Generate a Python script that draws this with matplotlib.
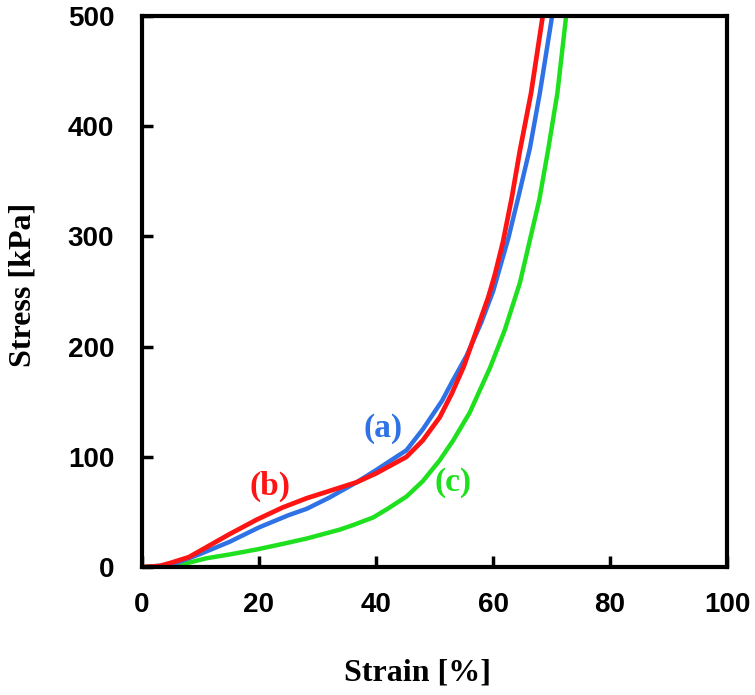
import numpy as np
import matplotlib
matplotlib.use('Agg')
import matplotlib.pyplot as plt

# valores: deformacion [%] y esfuerzo [kPa]
strain_a = [0, 5, 10, 15, 20, 25, 28.2, 32, 36.7, 40, 45.2, 48, 51.3, 53, 55.5, 58, 60, 62.6, 64.3, 66.3, 68, 70.1]
stress_a = [0, 2, 12, 23, 36, 47, 53, 63, 77, 88, 106, 125, 151, 168, 192, 222, 250, 298, 335, 380, 430, 500]

strain_b = [0, 3, 5, 8, 11, 15, 19.6, 24, 28.2, 32, 36.7, 40, 45.2, 48, 50.9, 53, 55, 57, 59.2, 60.3, 61.7, 63.2, 64.6, 66.5, 68.5]
stress_b = [0, 1, 4, 9, 18, 30, 43, 54, 62.6, 69, 77, 85, 100, 115, 136, 158, 182, 212, 245, 265, 295, 335, 378, 430, 500]

strain_c = [0, 5, 8, 11, 15, 19.6, 24, 28.2, 33.8, 36, 39.5, 42, 45.2, 48, 50.9, 53.2, 56, 59.5, 62, 64.6, 67.9, 69.4, 71, 72.5]
stress_c = [0, 1.5, 4, 8, 11.5, 16, 21, 26, 34, 38, 45, 53, 64, 78, 97, 115, 140, 181, 215, 258, 333, 378, 430, 500]

xticks = [0, 20, 40, 60, 80, 100]
yticks = [0, 100, 200, 300, 400, 500]

c_a = '#2f72e6'
c_b = '#ff1414'
c_c = '#1fe01f'

fig = plt.figure(figsize=(7.55, 6.95), dpi=100)
ax = fig.add_axes([0.188, 0.184, 0.775, 0.793])

ax.plot(strain_c, stress_c, color=c_c, lw=3.2, solid_capstyle='butt')
ax.plot(strain_a, stress_a, color=c_a, lw=3.2, solid_capstyle='butt')
ax.plot(strain_b, stress_b, color=c_b, lw=3.4, solid_capstyle='butt')

ax.set_xlim(0, 100)
ax.set_ylim(0, 500)
ax.set_xticks(xticks)
ax.set_yticks(yticks)

for s in ax.spines.values():
    s.set_linewidth(3)
ax.tick_params(direction='in', length=8, width=2.5, top=False, right=False)
ax.tick_params(axis='x', pad=18)
ax.tick_params(axis='y', pad=20)
for lab in ax.get_xticklabels() + ax.get_yticklabels():
    lab.set_fontfamily('Liberation Sans')
    lab.set_fontweight('bold')
    lab.set_fontsize(20)

serif = {'family': 'Liberation Serif', 'weight': 'bold'}
ax.set_xlabel('Strain [%]', fontdict=serif, fontsize=23)
ax.xaxis.set_label_coords(0.471, -0.166)
ax.set_ylabel('Stress [kPa]', fontdict=serif, fontsize=23)
ax.yaxis.set_label_coords(-0.178, 0.512)

ax.text(41.2, 126, '(a)', color=c_a, fontdict=serif, fontsize=24, ha='center', va='center')
ax.text(21.9, 73, '(b)', color=c_b, fontdict=serif, fontsize=24, ha='center', va='center')
ax.text(53.2, 77, '(c)', color=c_c, fontdict=serif, fontsize=24, ha='center', va='center')

fig.savefig('out.png', dpi=100)
